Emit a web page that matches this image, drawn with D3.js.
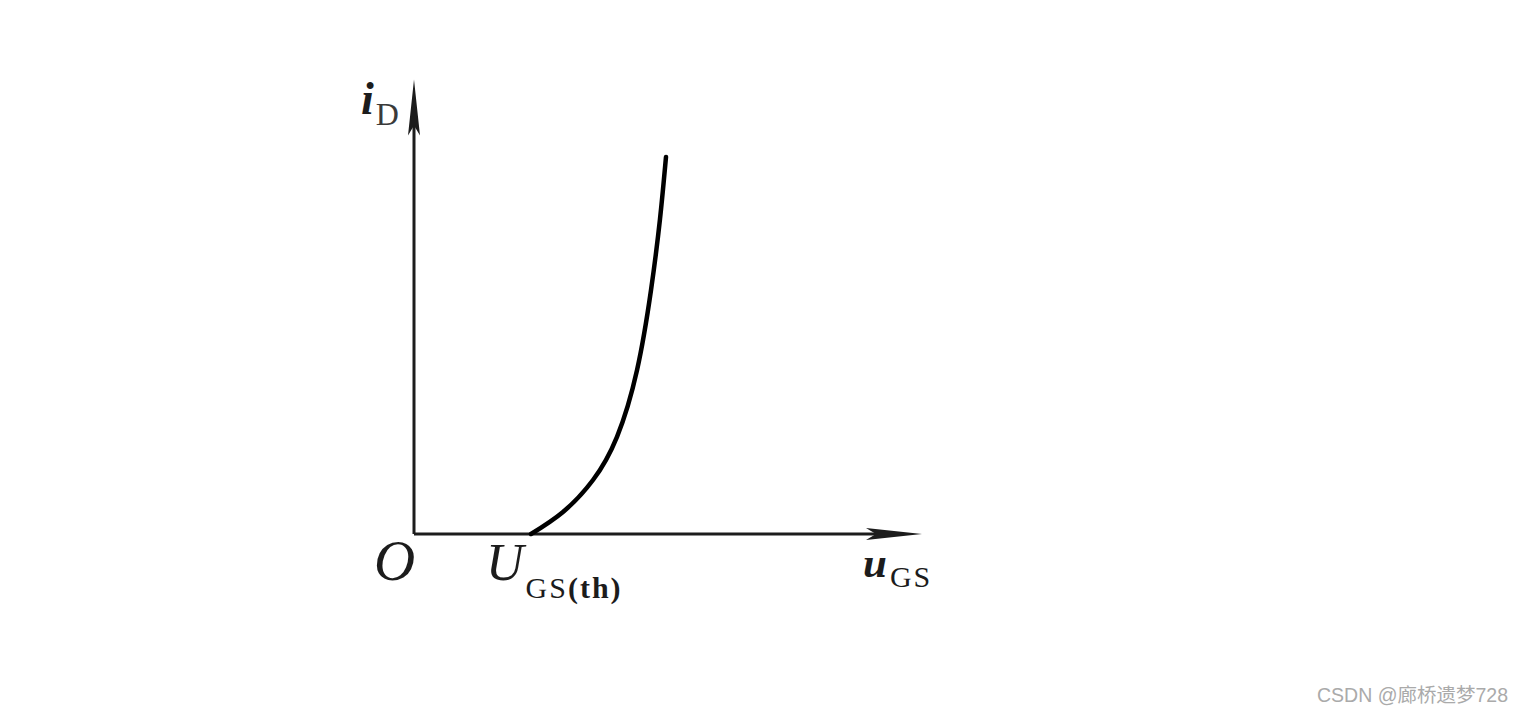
<!DOCTYPE html>
<html>
  <head>
    <title>iD - uGS transfer curve</title>
    <script src="https://d3js.org/d3.v7.min.js"></script>
    <style>
      body { margin: 0; background: #fff; }
      .lbl { font-family: "Liberation Serif", "DejaVu Serif", serif; fill: #1c1c1c; }
      .mark { font-family: "Liberation Sans", "Noto Sans CJK SC", sans-serif; fill: #aaa; }
    </style>
  </head>
  <body>
    <svg width="1524" height="715"></svg>
    <script>
      // transfer characteristic (arbitrary units)
      const uGS = [23.4, 29.8, 35.8, 40.6, 44.6, 47.4, 49.2, 50.4];
      const iD  = [0.0, 4.9, 12.0, 21.6, 36.4, 54.2, 70.0, 83.8];
      const uTh = 23.4;
      const axisMax = {x: 101.6, y: 101.0};

      const svg = d3.select("svg");
      const x = d3.scaleLinear().domain([0, 100]).range([414, 914]);
      const y = d3.scaleLinear().domain([0, 100]).range([534, 84]);

      const ink = "#1c1c1c";
      const g = svg.append("g");

      // axes
      g.append("line")
          .attr("x1", x(0)).attr("y1", y(0))
          .attr("x2", x(axisMax.x) - 20).attr("y2", y(0))
          .attr("stroke", ink).attr("stroke-width", 3);
      g.append("line")
          .attr("x1", x(0)).attr("y1", y(0))
          .attr("x2", x(0)).attr("y2", y(axisMax.y) + 20)
          .attr("stroke", ink).attr("stroke-width", 3);

      // slender arrow heads
      const tipX = x(axisMax.x), tipY = y(0);
      g.append("path")
          .attr("d", `M${tipX},${tipY} L${tipX - 56},${tipY - 6} L${tipX - 46},${tipY} L${tipX - 56},${tipY + 6} Z`)
          .attr("fill", ink);
      const topX = x(0), topY = y(axisMax.y);
      g.append("path")
          .attr("d", `M${topX},${topY} L${topX - 6},${topY + 56} L${topX},${topY + 46} L${topX + 6},${topY + 56} Z`)
          .attr("fill", ink);

      // curve
      const pts = uGS.map((u, i) => [u, iD[i]]);
      g.append("path")
          .datum(pts)
          .attr("d", d3.line().x(d => x(d[0])).y(d => y(d[1])).curve(d3.curveNatural))
          .attr("fill", "none")
          .attr("stroke", "#000")
          .attr("stroke-width", 4.5)
          .attr("stroke-linecap", "round");

      // labels
      const iLab = g.append("text").attr("class", "lbl")
          .attr("x", x(0) - 53).attr("y", y(axisMax.y) + 34);
      iLab.append("tspan").attr("font-style", "italic").attr("font-weight", "bold")
          .attr("font-size", 46).text("i");
      iLab.append("tspan").attr("font-size", 32).attr("dy", 11)
          .attr("fill", "#3a3a3a").attr("dx", 2).text("D");

      g.append("text").attr("class", "lbl")
          .attr("x", x(0) - 40).attr("y", y(0) + 46)
          .attr("font-style", "italic").attr("font-size", 57).text("O");

      const uLab = g.append("text").attr("class", "lbl")
          .attr("x", x(uTh) - 45).attr("y", y(0) + 46);
      uLab.append("tspan").attr("font-style", "italic").attr("font-size", 52).text("U");
      uLab.append("tspan").attr("font-size", 30).attr("dy", 18).attr("dx", 2)
          .attr("letter-spacing", 2).text("GS");
      uLab.append("tspan").attr("font-size", 30).attr("font-weight", "bold")
          .attr("letter-spacing", 2).text("(th)");

      const xLab = g.append("text").attr("class", "lbl")
          .attr("x", x(axisMax.x) - 59).attr("y", y(0) + 43);
      xLab.append("tspan").attr("font-style", "italic").attr("font-weight", "bold")
          .attr("font-size", 43).text("u");
      xLab.append("tspan").attr("font-size", 30).attr("dy", 10).attr("dx", 3)
          .attr("letter-spacing", 2).text("GS");

      // watermark
      svg.append("text").attr("class", "mark")
          .attr("x", 1508).attr("y", 702)
          .attr("text-anchor", "end").attr("font-size", 19.5)
          .text("CSDN @廊桥遗梦728");
    </script>
  </body>
</html>
